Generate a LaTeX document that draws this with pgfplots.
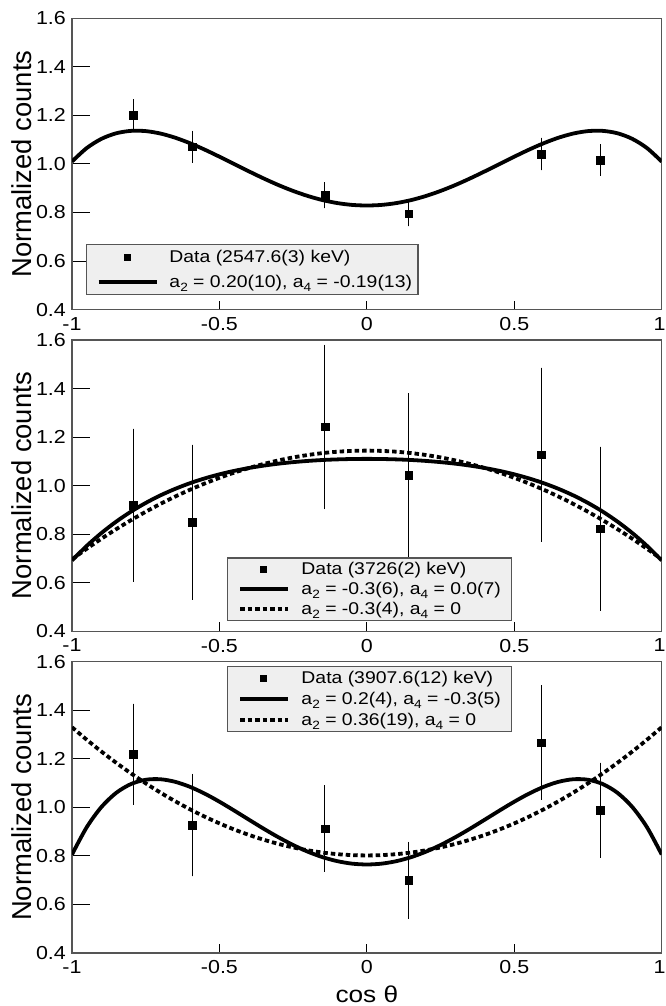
\documentclass[border=0pt]{standalone}
\usepackage{fontspec}
\setmainfont[FakeStretch=1.14]{Liberation Sans}
\newfontfamily\ylabfont{Liberation Sans}
\usepackage{pgfplots}
\usepackage{pgfplotstable}
\pgfplotsset{compat=1.18}
\definecolor{frame}{HTML}{555555}
\definecolor{legfill}{HTML}{EFEFEF}
\newcommand\sub[1]{\raisebox{-4pt}{\fontsize{12}{12}\selectfont #1}}

% fitted angular distributions
\pgfplotstableread{
x      p1     s2     d2     s3     d3
-1.00  1.0100 0.6920 0.6965 0.8058 1.3301
-0.95  1.0655 0.7520 0.7402 0.9183 1.2786
-0.90  1.1035 0.8051 0.7816 1.0018 1.2297
-0.85  1.1264 0.8519 0.8208 1.0599 1.1835
-0.80  1.1363 0.8930 0.8577 1.0961 1.1400
-0.75  1.1353 0.9288 0.8924 1.1137 1.0990
-0.70  1.1253 0.9600 0.9249 1.1158 1.0607
-0.65  1.1081 0.9869 0.9551 1.1052 1.0251
-0.60  1.0855 1.0101 0.9831 1.0846 0.9921
-0.55  1.0590 1.0299 1.0088 1.0566 0.9617
-0.50  1.0299 1.0467 1.0323 1.0233 0.9340
-0.45  0.9997 1.0609 1.0536 0.9869 0.9089
-0.40  0.9695 1.0727 1.0726 0.9493 0.8865
-0.35  0.9403 1.0825 1.0894 0.9121 0.8667
-0.30  0.9131 1.0905 1.1040 0.8769 0.8495
-0.25  0.8888 1.0969 1.1163 0.8449 0.8350
-0.20  0.8679 1.1019 1.1263 0.8172 0.8231
-0.15  0.8511 1.1057 1.1342 0.7948 0.8138
-0.10  0.8388 1.1082 1.1398 0.7783 0.8072
-0.05  0.8313 1.1098 1.1431 0.7681 0.8033
 0.00  0.8288 1.1103 1.1443 0.7647 0.8020
 0.05  0.8313 1.1098 1.1431 0.7681 0.8033
 0.10  0.8388 1.1082 1.1398 0.7783 0.8072
 0.15  0.8511 1.1057 1.1342 0.7948 0.8138
 0.20  0.8679 1.1019 1.1263 0.8172 0.8231
 0.25  0.8888 1.0969 1.1163 0.8449 0.8350
 0.30  0.9131 1.0905 1.1040 0.8769 0.8495
 0.35  0.9403 1.0825 1.0894 0.9121 0.8667
 0.40  0.9695 1.0727 1.0726 0.9493 0.8865
 0.45  0.9997 1.0609 1.0536 0.9869 0.9089
 0.50  1.0299 1.0467 1.0323 1.0233 0.9340
 0.55  1.0590 1.0299 1.0088 1.0566 0.9617
 0.60  1.0855 1.0101 0.9831 1.0846 0.9921
 0.65  1.1081 0.9869 0.9551 1.1052 1.0251
 0.70  1.1253 0.9600 0.9249 1.1158 1.0607
 0.75  1.1353 0.9288 0.8924 1.1137 1.0990
 0.80  1.1363 0.8930 0.8577 1.0961 1.1400
 0.85  1.1264 0.8519 0.8208 1.0599 1.1835
 0.90  1.1035 0.8051 0.7816 1.0018 1.2297
 0.95  1.0655 0.7520 0.7402 0.9183 1.2786
 1.00  1.0100 0.6920 0.6965 0.8058 1.3301
}\fits

\pgfplotstableread{
x       y      e
-0.793  1.201  0.058
-0.592  1.071  0.057
-0.142  0.871  0.046
 0.142  0.796  0.045
 0.592  1.041  0.059
 0.792  1.016  0.057
}\dataA
\pgfplotstableread{
x       y      e
-0.793  0.920  0.307
-0.592  0.850  0.311
-0.142  1.242  0.330
 0.142  1.044  0.328
 0.592  1.128  0.350
 0.792  0.823  0.330
}\dataB
\pgfplotstableread{
x       y      e
-0.793  1.219  0.200
-0.592  0.927  0.203
-0.142  0.912  0.170
 0.142  0.700  0.150
 0.592  1.267  0.227
 0.792  0.988  0.188
}\dataC

\pgfplotsset{
 panel/.style={
  scale only axis, width=589.7pt, height=291.3pt,
  xmin=-1, xmax=1, ymin=0.4, ymax=1.6,
  xtick={-1,-0.5,0,0.5,1}, xticklabels={-1,-0.5,0,0.5,\makebox[0pt]{1\hspace{4pt}}},
  ytick={0.4,0.6,0.8,1.0,1.2,1.4,1.6},
  yticklabels={0.4,0.6,0.8,1.0,1.2,1.4,1.6},
  tick align=inside, tick pos=left,
  major tick length=18pt,
  xtick style={/pgfplots/major tick length=9pt},
  axis line style={frame, line width=1.3pt},
  tick style={black, line width=1pt},
  ticklabel style={font=\fontsize{18.8}{20}\selectfont},
  xticklabel style={inner sep=0pt, anchor=north, yshift=-7.4pt},
  yticklabel style={inner sep=0pt, anchor=east, xshift=-6pt},
  ylabel={\ylabfont\fontsize{27.4}{30}\selectfont Normalized counts},
  every axis y label/.style={at={(axis description cs:-0.06834,0.5)}, rotate=90, anchor=base},
  legend cell align=left,
  legend style={draw=frame, fill=legfill, line width=1.2pt, font=\fontsize{17}{19}\selectfont,
                nodes={inner sep=0pt}, anchor=north west},
 },
 dat/.style={only marks, mark=square*, mark size=3.75pt, black,
   error bars/y dir=both, error bars/y explicit,
   error bars/error bar style={line width=1pt, black},
   error bars/error mark options={mark size=2pt, line width=1pt, black}},
 fit/.style={black, line width=3.8pt, smooth, no marks},
 fitd/.style={black, line width=3.8pt, dash pattern=on 4.5pt off 3pt, smooth, no marks},
 % #1 = left offset, #2 = sample length
 legline/.style 2 args={legend image code/.code={\path[draw=none, fill=none] (0pt,-1pt) rectangle ({#1+#2},1pt);
      \draw[##1] (#1,0pt) -- ({#1+#2},0pt);}},
 legmark/.style 2 args={legend image code/.code={\path[draw=none, fill=none] (0pt,-1pt) rectangle ({#1+#2},1pt);
      \fill[black, draw=none] ({#1+0.5*#2-3.5pt},-3.5pt) rectangle ++(7pt,7pt);}},
}

\begin{document}
\begin{tikzpicture}
% ---------------- panel 1
\begin{axis}[panel, at={(72pt,-18.3pt)}, anchor=north west,
  legend style={at={(axis description cs:0.0237,0.225)}, inner xsep=6pt, inner ysep=6pt,
                row sep=10.5pt, column sep=11pt}]
\addplot[dat, legmark={6pt}{58pt}] table[x=x, y=y, y error=e] {\dataA};
\addlegendentry{Data (2547.6(3) keV)}
\addplot[fit, legline={6pt}{58pt}] table[x=x, y=p1] {\fits};
\addlegendentry{a\sub{2} = 0.20(10), a\sub{4} = -0.19(13)}
\addplot[forget plot, dat] table[x=x, y=y, y error=e] {\dataA};
\end{axis}
% ---------------- panel 2
\begin{axis}[panel, at={(72pt,-340pt)}, anchor=north west,
  legend style={at={(axis description cs:0.263,0.254)}, inner xsep=10.5pt, inner ysep=4.5pt,
                row sep=6pt, column sep=12pt}]
\addplot[dat, legmark={0pt}{47.5pt}] table[x=x, y=y, y error=e] {\dataB};
\addlegendentry{Data (3726(2) keV)}
\addplot[fit, legline={0pt}{47.5pt}] table[x=x, y=s2] {\fits};
\addlegendentry{a\sub{2} = -0.3(6), a\sub{4} = 0.0(7)}
\addplot[fitd, legline={0pt}{47.5pt}] table[x=x, y=d2] {\fits};
\addlegendentry{a\sub{2} = -0.3(4), a\sub{4} = 0}
\addplot[forget plot, dat] table[x=x, y=y, y error=e] {\dataB};
\end{axis}
% ---------------- panel 3
\begin{axis}[panel, at={(72pt,-661.7pt)}, anchor=north west,
  xlabel={\fontsize{23}{25}\selectfont cos θ},
  every axis x label/.style={at={(axis description cs:0.5,0)}, anchor=base, yshift=-49.4pt},
  legend style={at={(axis description cs:0.263,0.985)}, inner xsep=10.5pt, inner ysep=4.5pt,
                row sep=7pt, column sep=12pt}]
\addplot[dat, legmark={0pt}{47.5pt}] table[x=x, y=y, y error=e] {\dataC};
\addlegendentry{Data (3907.6(12) keV)}
\addplot[fit, legline={0pt}{47.5pt}] table[x=x, y=s3] {\fits};
\addlegendentry{a\sub{2} = 0.2(4), a\sub{4} = -0.3(5)}
\addplot[fitd, legline={0pt}{47.5pt}] table[x=x, y=d3] {\fits};
\addlegendentry{a\sub{2} = 0.36(19), a\sub{4} = 0}
\addplot[forget plot, dat] table[x=x, y=y, y error=e] {\dataC};
\end{axis}
\pgfresetboundingbox
\useasboundingbox (0pt,0pt) rectangle (665pt,-1006pt);
\end{tikzpicture}
\end{document}
